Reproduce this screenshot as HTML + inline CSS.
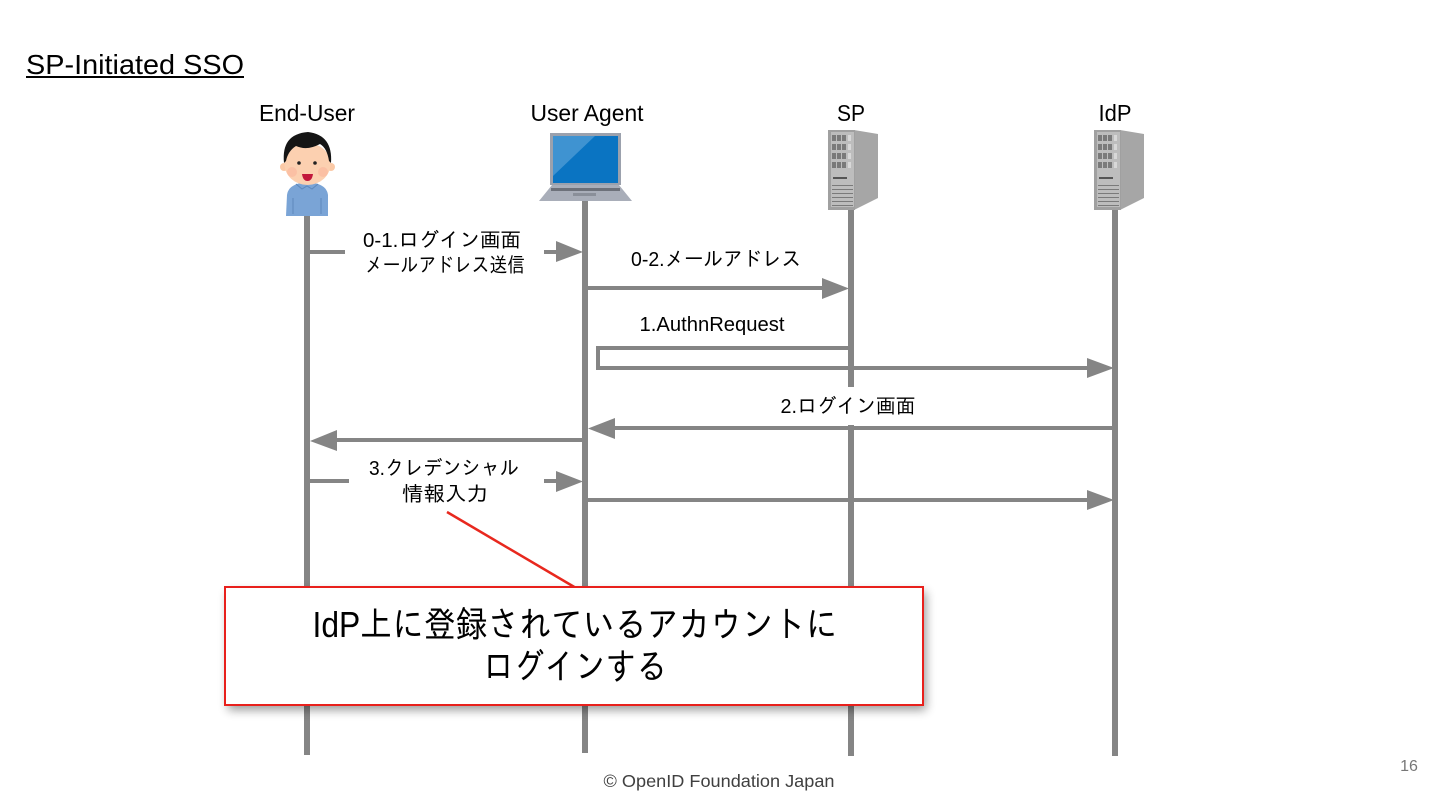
<!DOCTYPE html>
<html lang="ja"><head><meta charset="utf-8"><style>
html,body{margin:0;padding:0;background:#fff;width:1440px;height:810px;overflow:hidden}
svg{display:block}
text{font-family:"Liberation Sans","IPAGothic","Noto Sans CJK JP",sans-serif;fill:#000}
</style></head><body>
<svg width="1440" height="810" viewBox="0 0 1440 810" xmlns="http://www.w3.org/2000/svg">
<defs>
<filter id="s" x="-5%" y="-10%" width="110%" height="125%"><feGaussianBlur stdDeviation="5"/></filter>
<g id="srv">
<path d="M26 130L50 134V198L26 210Z" fill="#a6a6a6"/>
<rect x="0" y="130" width="27" height="80" fill="#a0a0a0"/>
<rect x="3" y="132" width="23" height="75" fill="#bdbdbd"/>
<g fill="#d8d8d8">
<rect x="20" y="135" width="3" height="6"/><rect x="20" y="144" width="3" height="6"/><rect x="20" y="153" width="3" height="6"/><rect x="20" y="162" width="3" height="6"/>
</g>
<g fill="#7a7a7a">
<rect x="4" y="135" width="4" height="6"/><rect x="9" y="135" width="4" height="6"/><rect x="14" y="135" width="4" height="6"/>
<rect x="4" y="144" width="4" height="6"/><rect x="9" y="144" width="4" height="6"/><rect x="14" y="144" width="4" height="6"/>
<rect x="4" y="153" width="4" height="6"/><rect x="9" y="153" width="4" height="6"/><rect x="14" y="153" width="4" height="6"/>
<rect x="4" y="162" width="4" height="6"/><rect x="9" y="162" width="4" height="6"/><rect x="14" y="162" width="4" height="6"/>
<rect x="5" y="177" width="14" height="2" fill="#555"/>
<rect x="4" y="185" width="21" height="1"/><rect x="4" y="189" width="21" height="1"/><rect x="4" y="193" width="21" height="1"/><rect x="4" y="197" width="21" height="1"/><rect x="4" y="201" width="21" height="1"/><rect x="4" y="205" width="21" height="1"/>
</g>
</g>
</defs>
<rect width="1440" height="810" fill="#fff"/>
<text x="26" y="74" font-size="28" textLength="218" lengthAdjust="spacingAndGlyphs">SP-Initiated SSO</text>
<rect x="26" y="76" width="218" height="2" fill="#000"/>

<g font-size="23" text-anchor="middle">
<text x="307" y="121" textLength="96" lengthAdjust="spacingAndGlyphs">End-User</text>
<text x="587" y="121" textLength="113" lengthAdjust="spacingAndGlyphs">User Agent</text>
<text x="851" y="121" textLength="28" lengthAdjust="spacingAndGlyphs">SP</text>
<text x="1115" y="121" textLength="33" lengthAdjust="spacingAndGlyphs">IdP</text>
</g>

<!-- lifelines -->
<g fill="#858585">
<rect x="304" y="212" width="6" height="543"/>
<rect x="582" y="200" width="6" height="553"/>
<rect x="848" y="205" width="6" height="182"/>
<rect x="848" y="425" width="6" height="331"/>
<rect x="1112" y="205" width="6" height="551"/>
</g>

<!-- arrows -->
<g fill="#858585">
<rect x="310" y="250" width="35" height="4"/>
<rect x="544" y="250" width="14" height="4"/><path d="M556 241L583 252L556 262Z"/>
<rect x="588" y="286" width="236" height="4"/><path d="M822 278L849 288.500L822 299Z"/>
<rect x="596" y="346" width="252" height="4"/>
<rect x="596" y="346" width="4" height="24"/>
<rect x="596" y="366" width="493" height="4"/><path d="M1087 358L1114 368L1087 378Z"/>
<rect x="612" y="426" width="500" height="4"/><path d="M615 418L588 428.500L615 439Z"/>
<rect x="336" y="438" width="246" height="4"/><path d="M337 430L310 441L337 451Z"/>
<rect x="310" y="479" width="39" height="4"/>
<rect x="544" y="479" width="14" height="4"/><path d="M556 471L583 481.500L556 492Z"/>
<rect x="588" y="498" width="501" height="4"/><path d="M1087 490L1114 500L1087 510Z"/>
</g>

<!-- labels -->
<g font-size="20.500" text-anchor="middle">
<text x="442" y="247" textLength="158" lengthAdjust="spacingAndGlyphs">0-1.ログイン画面</text>
<text x="445" y="272" textLength="160" lengthAdjust="spacingAndGlyphs">メールアドレス送信</text>
<text x="716" y="266" textLength="170" lengthAdjust="spacingAndGlyphs">0-2.メールアドレス</text>
<text x="712" y="331" textLength="145" lengthAdjust="spacingAndGlyphs">1.AuthnRequest</text>
<text x="848" y="413" textLength="135" lengthAdjust="spacingAndGlyphs">2.ログイン画面</text>
<text x="444" y="475" textLength="150" lengthAdjust="spacingAndGlyphs">3.クレデンシャル</text>
<text x="445" y="501" textLength="86" lengthAdjust="spacingAndGlyphs">情報入力</text>
</g>

<!-- person -->
<g>
<path d="M286 216L287 195Q288 187 297 184L307 181L318 184Q327 187 328 195V216Z" fill="#7aa4d6"/>
<path d="M296 184L302 189L307 186L312 189L318 184" fill="none" stroke="#5d88bc" stroke-width="1"/>
<path d="M293 198V214M321 198V214" stroke="#5d88bc" stroke-width="1"/>
<circle cx="284" cy="167" r="4" fill="#fbc9a6"/><circle cx="331" cy="167" r="4" fill="#fbc9a6"/>
<ellipse cx="307.500" cy="164" rx="23" ry="21" fill="#fcd0b0"/>
<path d="M284 163Q281 134 308 132Q333 135 331 163L329 161Q327 148 320 144Q307 151 296 146Q288 151 286 161Z" fill="#151515"/>
<circle cx="299" cy="163" r="1.800" fill="#222"/><circle cx="315" cy="163" r="1.800" fill="#222"/>
<circle cx="292" cy="172" r="5" fill="#fbb9a0" opacity=".7"/><circle cx="323" cy="172" r="5" fill="#fbb9a0" opacity=".7"/>
<path d="M302 174H313Q312 181 307.500 181Q303 181 302 174Z" fill="#c2183c"/>
</g>

<!-- laptop -->
<g>
<rect x="550" y="133" width="71" height="52" fill="#9ba1ad"/>
<rect x="553" y="136" width="65" height="47" fill="#0a74c2"/>
<path d="M553 136H595L553 176Z" fill="#3f93d1"/>
<path d="M552 185H619L632 201H539Z" fill="#a9aeb9"/>
<rect x="551" y="188" width="69" height="3" fill="#6d717a"/>
<rect x="573" y="193" width="23" height="3" fill="#8a8f99"/>
</g>

<!-- servers -->
<use href="#srv" x="828"/>
<use href="#srv" x="1094"/>

<!-- callout -->
<line x1="447" y1="512" x2="576" y2="588" stroke="#e8281e" stroke-width="2.500"/>
<rect x="228" y="592" width="698" height="118" fill="#000" opacity=".4" filter="url(#s)"/>
<rect x="225" y="587" width="698" height="118" fill="#fff" stroke="#e8201c" stroke-width="2"/>
<g font-size="36" text-anchor="middle">
<text x="575" y="637" textLength="525" lengthAdjust="spacingAndGlyphs">IdP上に登録されているアカウントに</text>
<text x="575" y="679" textLength="184" lengthAdjust="spacingAndGlyphs">ログインする</text>
</g>

<text x="719" y="787" font-size="17.500" text-anchor="middle" style="fill:#404040" textLength="231" lengthAdjust="spacingAndGlyphs">© OpenID Foundation Japan</text>
<text x="1409" y="771" font-size="16" text-anchor="middle" style="fill:#777">16</text>
</svg>
</body></html>
